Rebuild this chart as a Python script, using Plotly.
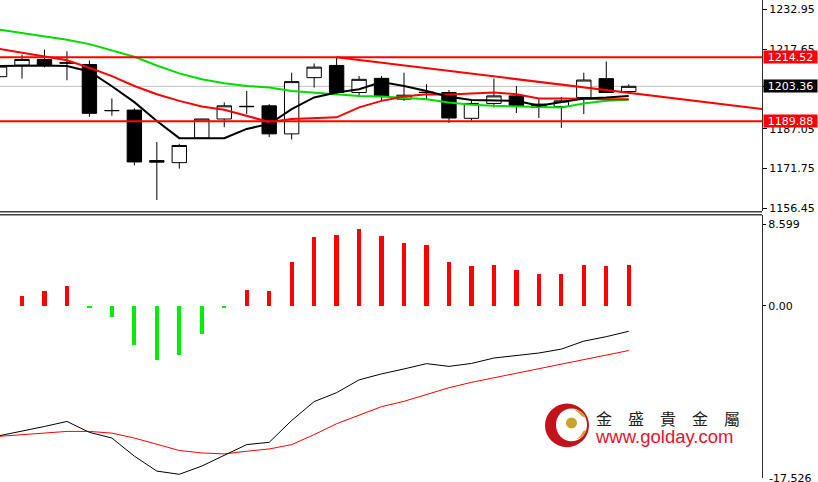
import plotly.graph_objects as go

# ---------------- data ----------------
bar_idx = list(range(-1, 28))

c_open  = [1207.08, 1211.51, 1213.68, 1212.42, 1211.77, 1193.96, 1194.22, 1174.80, 1174.00, 1183.43,
           1190.79, 1195.50, 1195.86, 1185.07, 1206.70, 1211.39, 1200.98, 1206.43, 1198.42, 1201.10,
           1200.98, 1191.06, 1196.78, 1199.68, 1196.51, 1195.64, 1199.07, 1206.32, 1201.36]
c_high  = [1212.90, 1215.59, 1217.50, 1216.85, 1213.30, 1198.69, 1194.87, 1181.90, 1181.25, 1190.90,
           1197.16, 1201.59, 1196.51, 1208.61, 1212.16, 1214.52, 1207.31, 1207.31, 1208.61, 1204.14,
           1201.97, 1198.42, 1206.32, 1203.50, 1198.42, 1199.30, 1208.61, 1212.90, 1204.14]
c_low   = [1206.05, 1206.32, 1210.63, 1205.67, 1191.67, 1192.05, 1172.97, 1159.62, 1171.71, 1183.30,
           1187.62, 1192.70, 1183.81, 1182.89, 1202.89, 1200.33, 1199.68, 1197.77, 1197.77, 1198.42,
           1189.26, 1190.14, 1195.25, 1193.08, 1191.17, 1187.36, 1192.70, 1200.98, 1201.36]
c_close = [1211.13, 1213.68, 1211.51, 1212.30, 1192.97, 1194.05, 1174.27, 1174.20, 1180.60, 1190.79,
           1195.86, 1195.64, 1185.07, 1205.17, 1210.74, 1200.98, 1206.05, 1199.68, 1199.95, 1200.98,
           1191.17, 1196.78, 1199.68, 1195.86, 1195.25, 1197.77, 1205.78, 1200.98, 1203.36]

ma_fast = [1211.20, 1211.39, 1211.39, 1211.20, 1209.10, 1203.38, 1197.28, 1190.03, 1183.43, 1183.43,
           1183.43, 1186.98, 1188.88, 1194.61, 1199.07, 1200.98, 1202.24, 1205.02, 1203.50, 1201.59,
           1199.38, 1198.12, 1198.04, 1197.77, 1195.86, 1197.16, 1198.69, 1199.07, 1199.68]
ma_mid  = [1217.76, 1216.24, 1214.94, 1213.42, 1210.52, 1207.31, 1203.50, 1200.33, 1197.77, 1195.64,
           1194.34, 1192.05, 1189.65, 1190.79, 1191.17, 1191.44, 1195.25, 1197.77, 1199.45, 1200.33,
           1200.21, 1200.71, 1200.98, 1200.33, 1198.69, 1198.69, 1198.42, 1198.42, 1198.42]
ma_slow = [1225.13, 1223.79, 1222.46, 1221.31, 1219.60, 1217.12, 1214.71, 1211.39, 1208.34, 1206.05,
           1204.53, 1203.50, 1202.89, 1201.59, 1200.98, 1200.33, 1199.68, 1199.45, 1199.07, 1198.42,
           1197.16, 1196.32, 1195.86, 1195.64, 1195.25, 1195.25, 1196.78, 1197.77, 1198.15]

resistance = 1214.52
support = 1189.88
last_price = 1203.36
trend_x = [14, 27]
trend_y = [1214.52, 1200.88]

price_ticks = [1232.95, 1217.65, 1203.36, 1187.05, 1171.75, 1156.45]
price_tick_text = ["1232.95", "1217.65", "", "1187.05", "1171.75", "1156.45"]

hist_idx = list(range(0, 28))
hist_vals = [1.04, 1.57, 2.06, -0.24, -1.22, -4.15, -5.72, -5.15, -2.93, -0.26,
             1.67, 1.57, 4.64, 7.25, 7.42, 8.05, 7.38, 6.61, 6.37, 4.56,
             4.18, 4.32, 3.79, 3.30, 3.30, 4.32, 4.18, 4.32]
osc_black = [-13.69, -13.24, -12.72, -12.19, -13.34, -13.94, -15.85, -17.42, -17.76, -16.89,
             -15.75, -14.63, -14.39, -12.09, -10.10, -9.16, -7.81, -7.18, -6.66, -6.10,
             -6.39, -6.08, -5.51, -5.27, -4.98, -4.57, -3.73, -3.26, -2.69]
osc_red = [-13.76, -13.60, -13.39, -13.24, -13.24, -13.42, -13.94, -14.63, -15.25, -15.51,
           -15.61, -15.33, -15.09, -14.63, -13.58, -12.43, -11.49, -10.63, -10.07, -9.37,
           -8.64, -8.07, -7.60, -7.13, -6.66, -6.19, -5.72, -5.25, -4.72]
osc_ticks = [8.599, 0.0]
osc_tick_text = ["8.599", "0.00"]
osc_min_label = "-17.526"

# ---------------- layout geometry ----------------
W, H = 818, 482
PLOT_W = 762
X_RANGE = [-0.979, 32.93]
TOP_DOMAIN = [1 - 213 / H, 1]
BOT_DOMAIN = [0, 1 - 217 / H]
TOP_RANGE = [1155.31, 1236.57]
BOT_RANGE = [-18.149, 9.539]

RED = "#ff0000"
GREEN_MA = "#00dc00"
GREEN_H = "#00ee00"
FONT = "DejaVu Sans"

fig = go.Figure()

fig.add_trace(go.Candlestick(
    x=bar_idx, open=c_open, high=c_high, low=c_low, close=c_close,
    increasing=dict(fillcolor="white", line=dict(color="black", width=1)),
    decreasing=dict(fillcolor="black", line=dict(color="black", width=1)),
    whiskerwidth=0, hoverinfo="skip", showlegend=False, xaxis="x", yaxis="y"))

# trend line extended to right edge
slope = (trend_y[1] - trend_y[0]) / (trend_x[1] - trend_x[0])
tx = [trend_x[0], X_RANGE[1]]
ty = [trend_y[0], trend_y[0] + slope * (X_RANGE[1] - trend_x[0])]
fig.add_trace(go.Scatter(x=tx, y=ty, mode="lines", line=dict(color=RED, width=2),
                         hoverinfo="skip", showlegend=False, xaxis="x", yaxis="y"))

fig.add_trace(go.Scatter(x=bar_idx, y=ma_slow, mode="lines", line=dict(color=GREEN_MA, width=2),
                         hoverinfo="skip", showlegend=False, xaxis="x", yaxis="y"))
fig.add_trace(go.Scatter(x=bar_idx, y=ma_mid, mode="lines", line=dict(color=RED, width=2),
                         hoverinfo="skip", showlegend=False, xaxis="x", yaxis="y"))
fig.add_trace(go.Scatter(x=bar_idx, y=ma_fast, mode="lines", line=dict(color="black", width=2),
                         hoverinfo="skip", showlegend=False, xaxis="x", yaxis="y"))

# oscillator panel
fig.add_trace(go.Bar(x=hist_idx, y=hist_vals, width=0.19,
                     marker=dict(color=[RED if v >= 0 else GREEN_H for v in hist_vals], line=dict(width=0)),
                     hoverinfo="skip", showlegend=False, xaxis="x", yaxis="y2"))
fig.add_trace(go.Scatter(x=bar_idx, y=osc_red, mode="lines", line=dict(color=RED, width=1),
                         hoverinfo="skip", showlegend=False, xaxis="x", yaxis="y2"))
fig.add_trace(go.Scatter(x=bar_idx, y=osc_black, mode="lines", line=dict(color="black", width=1),
                         hoverinfo="skip", showlegend=False, xaxis="x", yaxis="y2"))

shapes = [
    dict(type="line", xref="paper", yref="y", x0=0, x1=1, y0=last_price, y1=last_price,
         line=dict(color="#c0c0c0", width=1), layer="below"),
    dict(type="line", xref="paper", yref="y", x0=0, x1=1, y0=resistance, y1=resistance,
         line=dict(color=RED, width=2)),
    dict(type="line", xref="paper", yref="y", x0=0, x1=1, y0=support, y1=support,
         line=dict(color=RED, width=2)),
    # window separators
    dict(type="line", xref="paper", yref="paper", x0=0, x1=1, y0=1 - 213.5 / H, y1=1 - 213.5 / H,
         line=dict(color="#404040", width=1.5)),
    dict(type="line", xref="paper", yref="paper", x0=0, x1=1, y0=1 - 216.5 / H, y1=1 - 216.5 / H,
         line=dict(color="#404040", width=1.5)),
]

# logo watermark
def px(x):
    return x / PLOT_W

def py(y):
    return 1 - y / H

shapes += [
    dict(type="circle", xref="paper", yref="paper", x0=px(545), x1=px(589), y0=py(451), y1=py(407),
         fillcolor="#c4121a", line=dict(width=0)),
    dict(type="circle", xref="paper", yref="paper", x0=px(556), x1=px(587), y0=py(445), y1=py(412),
         fillcolor="white", line=dict(width=0)),
    dict(type="circle", xref="paper", yref="paper", x0=px(566), x1=px(577), y0=py(432), y1=py(421),
         fillcolor="#c9a227", line=dict(width=0)),
    dict(type="path", xref="paper", yref="paper",
         path=f"M {px(574)} {py(413)} Q {px(583)} {py(414)} {px(586)} {py(421)} L {px(582)} {py(420)} Q {px(579)} {py(416)} {px(574)} {py(413)} Z",
         fillcolor="#c9a227", line=dict(width=0)),
    dict(type="path", xref="paper", yref="paper",
         path=f"M {px(576)} {py(443)} Q {px(584)} {py(441)} {px(587)} {py(433)} L {px(583)} {py(435)} Q {px(581)} {py(440)} {px(576)} {py(443)} Z",
         fillcolor="#c9a227", line=dict(width=0)),
]

annotations = [
    dict(text="金　盛　貴　金　屬", xref="paper", yref="paper", x=px(594), y=py(421.5),
         xanchor="left", yanchor="middle", showarrow=False,
         font=dict(family="Noto Sans CJK TC", size=16, color="#222222")),
    dict(text="www.golday.com", xref="paper", yref="paper", x=px(593), y=py(440),
         xanchor="left", yanchor="middle", showarrow=False,
         font=dict(family="Liberation Sans", size=18.5, color="#e8112d")),
    dict(text=osc_min_label, xref="paper", yref="paper", x=px(767), y=py(482), xanchor="left",
         yanchor="middle", showarrow=False, font=dict(family=FONT, size=11, color="black")),
]

for val, bg in [(resistance, RED), (last_price, "black"), (support, RED)]:
    annotations.append(dict(text=f"{val:.2f}", xref="paper", yref="y", x=px(763), y=val,
                            xanchor="left", yanchor="middle", showarrow=False, bgcolor=bg,
                            width=53, height=12, borderpad=0, align="center",
                            font=dict(family=FONT, size=11, color="white")))

fig.update_layout(
    width=W, height=H,
    margin=dict(l=0, r=W - PLOT_W, t=0, b=0),
    paper_bgcolor="white", plot_bgcolor="white",
    boxgap=0.36, boxgroupgap=0,
    bargap=0,
    shapes=shapes, annotations=annotations,
    showlegend=False,
    hovermode=False,
    xaxis=dict(range=X_RANGE, visible=False, rangeslider=dict(visible=False), fixedrange=True),
    yaxis=dict(domain=TOP_DOMAIN, range=TOP_RANGE, side="right", tickvals=price_ticks,
               ticktext=price_tick_text, ticks="outside", ticklen=4, tickcolor="black",
               showline=True, linecolor="#303030", linewidth=1, showgrid=False, zeroline=False,
               tickfont=dict(family=FONT, size=11, color="black"), fixedrange=True),
    yaxis2=dict(domain=BOT_DOMAIN, range=BOT_RANGE, side="right", tickvals=osc_ticks,
                ticktext=osc_tick_text, ticks="outside", ticklen=3, tickcolor="black",
                showline=True, linecolor="#303030", linewidth=1, showgrid=False, zeroline=False,
                tickfont=dict(family=FONT, size=11, color="black"), fixedrange=True),
)

fig.write_html("out.html", config={"displayModeBar": False, "staticPlot": True},
               post_script="document.body.style.margin='0';document.body.style.overflow='hidden';")
